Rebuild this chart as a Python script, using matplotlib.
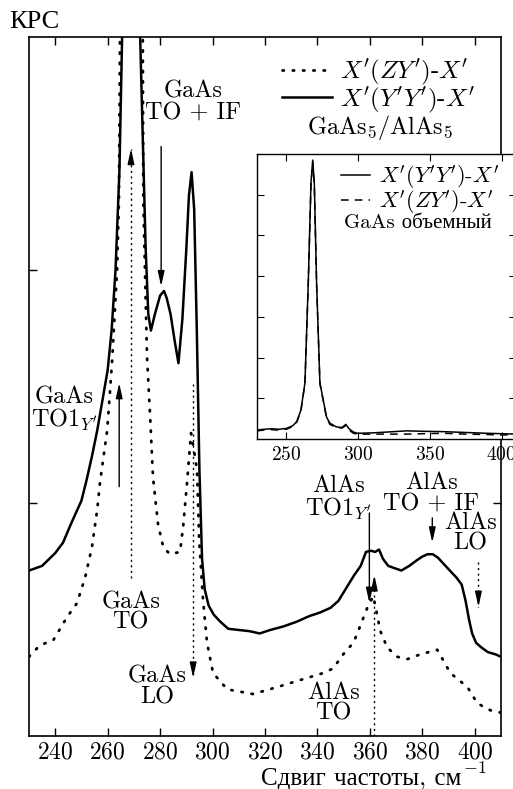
import numpy as np
import matplotlib
matplotlib.use("Agg")
import matplotlib.pyplot as plt
from matplotlib.lines import Line2D

plt.rcParams["font.family"] = ["cmr10", "Liberation Serif"]
plt.rcParams["mathtext.fontset"] = "cm"
plt.rcParams["axes.formatter.use_mathtext"] = True

# ── main spectrum, GaAs5/AlAs5, X'(Y'Y')-X' (solid) ──
yy_x = [230, 235, 240, 243, 246, 248, 250, 252, 254, 256, 258, 260, 261.5, 263,
        264.5, 265.5, 266.5, 271, 272.4, 273.5, 274.5, 275.5, 276.5, 278, 280,
        281.5, 282.5, 284, 285.5, 287, 288.5, 290, 291, 292, 293, 294, 295, 296,
        297, 298.5, 300.5, 303, 306, 310, 314, 318, 322, 327, 332, 337, 341, 345,
        348, 351, 354, 356.5, 358.5, 360.5, 362, 363.5, 365, 367, 369.5, 372, 375,
        378, 380, 382, 384, 386, 388, 390.5, 393, 395, 396.5, 397.8, 399, 400.5,
        402.5, 405, 408, 410]
yy_y = [0.71, 0.73, 0.785, 0.83, 0.91, 0.96, 1.01, 1.10, 1.20, 1.31, 1.44, 1.57,
        1.74, 2.00, 2.43, 2.99, 3.6, 3.6, 3.0, 2.52, 2.09, 1.81, 1.74, 1.81, 1.89,
        1.91, 1.88, 1.81, 1.70, 1.60, 1.79, 2.09, 2.32, 2.42, 2.26, 1.74, 1.14,
        0.76, 0.63, 0.56, 0.52, 0.49, 0.46, 0.455, 0.45, 0.44, 0.455, 0.47, 0.49,
        0.515, 0.53, 0.55, 0.58, 0.635, 0.69, 0.73, 0.79, 0.795, 0.79, 0.80, 0.76,
        0.73, 0.72, 0.71, 0.73, 0.755, 0.77, 0.78, 0.78, 0.765, 0.74, 0.71, 0.68,
        0.65, 0.58, 0.50, 0.44, 0.40, 0.38, 0.36, 0.35, 0.34]

# ── X'(ZY')-X' (dotted) ──
zy_x = [230, 234.2, 239.2, 244.5, 248.3, 251.4, 254, 256, 257.1, 258.2, 259.8,
        260.9, 261.7, 263.6, 264.3, 264.7, 266, 272, 273.4, 273.6, 275, 276.2,
        277.3, 279.2, 281.2, 283.8, 287.6, 288.8, 290.3, 291.5, 291.8, 293, 294.1,
        294.9, 296.4, 297.9, 300.2, 305.6, 315.5, 324.7, 333.4, 342.2, 346, 349.8,
        353.7, 355.2, 359, 361.3, 364, 366.6, 370.4, 374.3, 379.2, 385.7, 390.7,
        397.2, 401, 406, 410]
zy_y = [0.34, 0.39, 0.41, 0.51, 0.57, 0.68, 0.81, 0.97, 1.09, 1.18, 1.31, 1.48,
        1.61, 2.00, 2.30, 3.0, 3.6, 3.6, 3.0, 2.30, 1.63, 1.37, 1.11, 0.91, 0.81,
        0.78, 0.79, 0.90, 1.09, 1.26, 1.30, 1.22, 1.14, 0.84, 0.58, 0.40, 0.27,
        0.20, 0.18, 0.21, 0.24, 0.27, 0.29, 0.35, 0.40, 0.44, 0.55, 0.60, 0.45,
        0.38, 0.34, 0.33, 0.35, 0.37, 0.27, 0.21, 0.14, 0.11, 0.10]

# ── inset: bulk GaAs ──
bulk_x = [230, 235, 240, 245, 250.5, 255, 257.6, 260.5, 263.3, 265.6, 267.5,
          268.7, 269.8, 271.4, 273.7, 278.3, 280.6, 285, 289, 291.7, 294, 297,
          300, 310, 320, 334, 345, 360, 375, 390, 400, 410]
bulk_yy = [0.22, 0.24, 0.25, 0.24, 0.26, 0.33, 0.43, 0.71, 1.38, 3.83, 6.3, 6.85,
           6.3, 3.83, 1.38, 0.54, 0.39, 0.30, 0.28, 0.36, 0.25, 0.17, 0.14, 0.15,
           0.17, 0.20, 0.19, 0.18, 0.16, 0.14, 0.13, 0.12]
bulk_zy = [0.20, 0.22, 0.23, 0.22, 0.24, 0.31, 0.41, 0.69, 1.36, 3.80, 6.25, 6.8,
           6.25, 3.80, 1.36, 0.52, 0.36, 0.28, 0.27, 0.33, 0.22, 0.14, 0.12, 0.12,
           0.12, 0.12, 0.13, 0.14, 0.12, 0.11, 0.10, 0.10]

xticks_main = [240, 260, 280, 300, 320, 340, 360, 380, 400]
xticks_inset = [250, 300, 350, 400]

FS = 17.5

fig = plt.figure(figsize=(5.13, 7.89), dpi=100)
ax = fig.add_axes([0.0565, 0.0672, 0.9201, 0.8859])

dots = dict(linestyle=(0, (0.5, 3.2)), dash_capstyle="round", linewidth=2.0,
            color="black")
ax.plot(zy_x, zy_y, **dots)
ax.plot(yy_x, yy_y, color="black", linewidth=1.8)

ax.set_xlim(230, 410)
ax.set_ylim(0, 3)
ax.set_xticks(xticks_main)
ax.set_yticks([1, 2])
ax.set_yticklabels([])
ax.tick_params(direction="in", length=6, width=1, top=True, right=True,
               labelsize=17, pad=4)
for s in ax.spines.values():
    s.set_linewidth(1.2)

# axis label: cyrillic text + separate superscript (cm math font has no cyrillic)
fig.text(0.899, 0.0055, "Сдвиг частоты, см", fontsize=18, ha="right",
         va="baseline")
fig.text(0.9025, 0.0205, r"$-1$", fontsize=13, ha="left", va="baseline")
fig.text(0.018, 0.973, "КРС", fontsize=19, ha="left", va="center")

# legend
h1 = Line2D([], [], **dots)
h2 = Line2D([], [], color="black", linewidth=1.8)
ax.legend([h1, h2], [r"$X'(ZY')$-$X'$", r"$X'(Y'Y')$-$X'$"],
          loc="upper left", bbox_to_anchor=(0.515, 0.985),
          frameon=False, fontsize=18, handlelength=2.0,
          handletextpad=0.3, labelspacing=-0.1, borderaxespad=0)
ax.text(364, 2.61, r"GaAs$_5$/AlAs$_5$", fontsize=FS, ha="center",
        va="center")

# ── annotations ──
head = dict(arrowstyle="-|>,head_length=0.9,head_width=0.2",
            color="black", linewidth=1.0, shrinkA=0, shrinkB=0)
thin_dots = dict(color="black", linewidth=1.0, linestyle=(0, (1.5, 2.5)))


def arrow(x, y0, y1):
    ax.annotate("", xy=(x, y1), xytext=(x, y0), arrowprops=head)


def dotted_arrow(x, y0, y1):
    ax.plot([x, x], [y0, y1], **thin_dots)
    d = 0.06 if y1 > y0 else -0.06
    ax.annotate("", xy=(x, y1), xytext=(x, y1 - d), arrowprops=head)


def label(x, y, s):
    ax.text(x, y, s, fontsize=FS, ha="center", va="center", linespacing=0.92)


label(292.6, 2.72, "GaAs\nTO + IF")
arrow(280.4, 2.53, 1.93)

dotted_arrow(268.9, 0.68, 2.52)
label(268.8, 0.53, "GaAs\nTO")

arrow(264.4, 1.07, 1.515)
label(243.5, 1.40, "GaAs\nTO1$_{Y'}$")

dotted_arrow(292.6, 1.51, 0.25)
label(278.9, 0.21, "GaAs\nLO")

arrow(359.8, 0.957, 0.571)
label(347.9, 1.02, "AlAs\nTO1$_{Y'}$")

dotted_arrow(361.7, 0.0, 0.69)
label(346, 0.14, "AlAs\nTO")

arrow(383.8, 0.936, 0.83)
label(383.4, 1.04, "AlAs\nTO + IF")

dotted_arrow(401.4, 0.747, 0.554)
label(398.3, 0.87, "AlAs\nLO")

# ── inset ──
ins = fig.add_axes([0.501, 0.4436, 0.505, 0.3612])
ins.plot(bulk_x, bulk_yy, color="black", linewidth=1.1,
         label=r"$X'(Y'Y')$-$X'$")
ins.plot(bulk_x, bulk_zy, color="black", linewidth=1.1, linestyle=(0, (5, 4)),
         label=r"$X'(ZY')$-$X'$")
ins.set_xlim(230, 410)
ins.set_ylim(0, 7)
ins.set_xticks(xticks_inset)
ins.set_yticks([1, 2, 3, 4, 5, 6])
ins.set_yticklabels([])
ins.tick_params(direction="in", length=5, width=0.8, top=True, right=True,
                labelsize=14, pad=5)
for s in ins.spines.values():
    s.set_linewidth(1.0)
ins.legend(loc="upper left", bbox_to_anchor=(0.29, 1.0), frameon=False,
           fontsize=16, handlelength=1.3, handletextpad=0.4,
           labelspacing=-0.1, borderaxespad=0)
ins.text(0.62, 0.758, "GaAs объемный", transform=ins.transAxes, fontsize=15,
         ha="center", va="center")

fig.savefig("out.png", dpi=100)
